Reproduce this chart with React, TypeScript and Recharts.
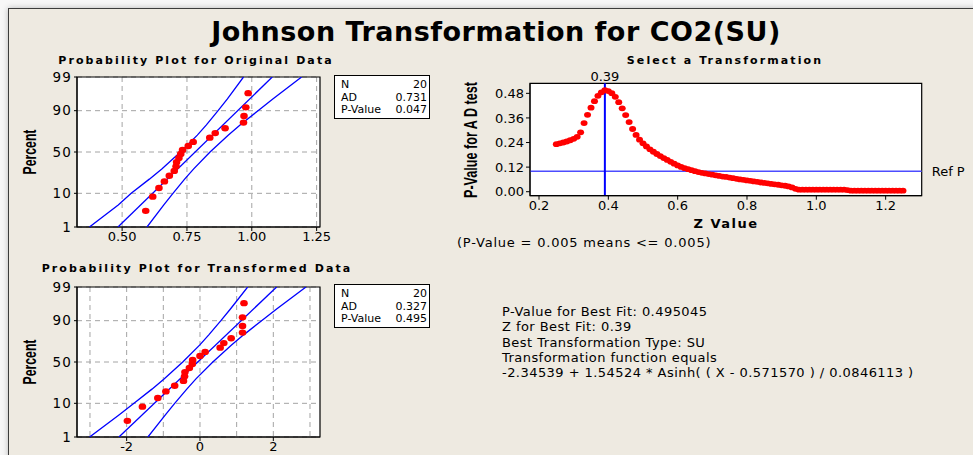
import React from "react";
import {
  ScatterChart,
  Scatter,
  XAxis,
  YAxis,
  CartesianGrid,
  ReferenceLine,
  ReferenceArea,
} from "recharts";

const FONT = "'DejaVu Sans', Verdana, sans-serif";
const NARROW = "'Liberation Sans', Arial, sans-serif";

// probability plots: sorted data and their plotting percents
const originalValues = [
  0.591, 0.618, 0.642, 0.663, 0.682, 0.701, 0.708, 0.71, 0.719, 0.726,
  0.733, 0.755, 0.774, 0.838, 0.859, 0.897, 0.968, 0.97, 0.977, 0.986,
];
const transformedValues = [
  -1.98, -1.57, -1.15, -0.93, -0.69, -0.45, -0.42, -0.41, -0.29, -0.21,
  -0.2, 0.0, 0.14, 0.55, 0.65, 0.85, 1.16, 1.16, 1.16, 1.2,
];
const plotPercents = [
  3.4, 8.3, 13.2, 18.1, 23.0, 27.9, 32.8, 37.7, 42.6, 47.5,
  52.5, 57.4, 62.3, 67.2, 72.1, 77.0, 81.9, 86.8, 91.7, 96.6,
];
const percentTicks = [1, 10, 50, 90, 99];

// confidence bands and fitted lines
const bandPercents = [1, 5, 10, 20, 30, 50, 70, 80, 90, 95, 99];
const originalLower = [0.374, 0.485, 0.535, 0.605, 0.653, 0.725, 0.79, 0.825, 0.87, 0.906, 0.968];
const originalUpper = [0.596, 0.66, 0.696, 0.741, 0.776, 0.839, 0.91, 0.956, 1.024, 1.081, 1.192];
const transformedLower = [-3.01, -2.21, -1.8, -1.31, -0.98, -0.47, -0.01, 0.24, 0.57, 0.83, 1.3];
const transformedUpper = [-1.42, -0.95, -0.69, -0.36, -0.11, 0.35, 0.86, 1.19, 1.68, 2.09, 2.89];
const fitPercents = [1, 99];
const originalFit = [0.484, 1.079];
const transformedFit = [-2.21, 2.09];

const originalTicks = [0.5, 0.75, 1.0, 1.25];
const originalGrid = [0.375, 0.5, 0.625, 0.75, 0.875, 1.0, 1.125, 1.25];
const transformedTicks = [-2, 0, 2];
const transformedGrid = [-3, -2, -1, 0, 1, 2, 3];

// transformation search: P-value of AD test per Z value
const zValues = [
  0.25, 0.26, 0.27, 0.28, 0.29, 0.3, 0.31, 0.32, 0.33, 0.34,
  0.35, 0.36, 0.37, 0.38, 0.39, 0.4, 0.41, 0.42, 0.43, 0.44,
  0.45, 0.46, 0.47, 0.48, 0.49, 0.5, 0.51, 0.52, 0.53, 0.54,
  0.55, 0.56, 0.57, 0.58, 0.59, 0.6, 0.61, 0.62, 0.63, 0.64,
  0.65, 0.66, 0.67, 0.68, 0.69, 0.7, 0.71, 0.72, 0.73, 0.74,
  0.75, 0.76, 0.77, 0.78, 0.79, 0.8, 0.81, 0.82, 0.83, 0.84,
  0.85, 0.86, 0.87, 0.88, 0.89, 0.9, 0.91, 0.92, 0.93, 0.94,
  0.95, 0.96, 0.97, 0.98, 0.99, 1.0, 1.01, 1.02, 1.03, 1.04,
  1.05, 1.06, 1.07, 1.08, 1.09, 1.1, 1.11, 1.12, 1.13, 1.14,
  1.15, 1.16, 1.17, 1.18, 1.19, 1.2, 1.21, 1.22, 1.23, 1.24,
  1.25,
];
const pValues = [
  0.232, 0.236, 0.24, 0.245, 0.251, 0.258, 0.268, 0.29, 0.335, 0.375,
  0.41, 0.442, 0.468, 0.485, 0.495, 0.491, 0.481, 0.463, 0.437, 0.407,
  0.374, 0.34, 0.306, 0.277, 0.254, 0.236, 0.221, 0.207, 0.195, 0.184,
  0.174, 0.164, 0.155, 0.146, 0.137, 0.128, 0.121, 0.115, 0.11, 0.105,
  0.1, 0.096, 0.092, 0.089, 0.086, 0.083, 0.08, 0.077, 0.074, 0.072,
  0.069, 0.066, 0.063, 0.06, 0.058, 0.055, 0.053, 0.05, 0.048, 0.045,
  0.043, 0.041, 0.038, 0.036, 0.034, 0.031, 0.029, 0.026, 0.021, 0.014,
  0.01, 0.01, 0.01, 0.01, 0.01, 0.01, 0.01, 0.01, 0.01, 0.01,
  0.01, 0.01, 0.01, 0.01, 0.008, 0.005, 0.005, 0.005, 0.005, 0.005,
  0.005, 0.005, 0.005, 0.005, 0.005, 0.005, 0.005, 0.005, 0.005, 0.005,
  0.005,
];
const zAxisTicks = [0.2, 0.4, 0.6, 0.8, 1.0, 1.2];
const pAxisTicks = [0, 0.12, 0.24, 0.36, 0.48];
const bestZ = 0.39;
const refP = 0.1;

const statLabels = ["N", "AD", "P-Value"];
const originalStats = ["20", "0.731", "0.047"];
const transformedStats = ["20", "0.327", "0.495"];

const summaryLines = [
  "P-Value for Best Fit: 0.495045",
  "Z for Best Fit: 0.39",
  "Best Transformation Type: SU",
  "Transformation function equals",
  "-2.34539 + 1.54524 * Asinh( ( X - 0.571570 ) / 0.0846113 )",
];

// inverse normal cdf (Acklam), used for the probability scale
function probit(p: number): number {
  const a = [-39.69683028665376, 220.9460984245205, -275.9285104469687, 138.357751867269, -30.66479806614716, 2.506628277459239];
  const b = [-54.47609879822406, 161.5858368580409, -155.6989798598866, 66.80131188771972, -13.28068155288572];
  const c = [-0.007784894002430293, -0.3223964580411365, -2.400758277161838, -2.549732539343734, 4.374664141464968, 2.938163982698783];
  const d = [0.007784695709041462, 0.3224671290700398, 2.445134137142996, 3.754408661907416];
  const lo = 0.02425;
  if (p < lo) {
    const q = Math.sqrt(-2 * Math.log(p));
    return (((((c[0] * q + c[1]) * q + c[2]) * q + c[3]) * q + c[4]) * q + c[5]) /
      ((((d[0] * q + d[1]) * q + d[2]) * q + d[3]) * q + 1);
  }
  if (p > 1 - lo) return -probit(1 - p);
  const q = p - 0.5;
  const r = q * q;
  return ((((((a[0] * r + a[1]) * r + a[2]) * r + a[3]) * r + a[4]) * r + a[5]) * q) /
    (((((b[0] * r + b[1]) * r + b[2]) * r + b[3]) * r + b[4]) * r + 1);
}

const zTicks = percentTicks.map((p) => probit(p / 100));
const zDomain: [number, number] = [zTicks[0], zTicks[zTicks.length - 1]];

const redDot = (r: number) => (props: any) => (
  <ellipse cx={props.cx} cy={props.cy} rx={r + 0.6} ry={r} fill="#ff0000" />
);
const noDot = () => <g />;

type ProbPlotProps = {
  values: number[];
  lower: number[];
  upper: number[];
  fit: number[];
  xDomain: [number, number];
  xTicks: number[];
  gridX: number[];
  digits: number;
  height: number;
  axisHeight: number;
};

const ProbPlot = ({ values, lower, upper, fit, xDomain, xTicks, gridX, digits, height, axisHeight }: ProbPlotProps) => {
  const dots = values.map((x, i) => ({ x, z: probit(plotPercents[i] / 100) }));
  const band = (arr: number[]) => arr.map((x, i) => ({ x, z: probit(bandPercents[i] / 100) }));
  const fitLine = fit.map((x, i) => ({ x, z: probit(fitPercents[i] / 100) }));
  const lineStyle = { stroke: "#0000ff", strokeWidth: 1.3 };
  return (
    <ScatterChart
      width={340}
      height={height}
      margin={{ top: 17, right: 20, bottom: height - 17 - 150 - axisHeight, left: 17 }}
    >
      <CartesianGrid
        fill="#ffffff"
        stroke="#a4a4a4"
        strokeDasharray="5 4"
        horizontalValues={zTicks}
        verticalValues={gridX}
      />
      <XAxis
        type="number"
        dataKey="x"
        domain={xDomain}
        ticks={xTicks}
        allowDataOverflow
        height={axisHeight}
        tickFormatter={(v: number) => (digits ? v.toFixed(digits) : String(v))}
        tick={{ fill: "#000", fontSize: 13, fontFamily: FONT }}
        tickSize={4}
        tickMargin={1}
        axisLine={{ stroke: "#000" }}
        tickLine={{ stroke: "#000" }}
      />
      <YAxis
        type="number"
        dataKey="z"
        domain={zDomain}
        ticks={zTicks}
        allowDataOverflow
        width={60}
        tickFormatter={(v: number) => String(percentTicks[zTicks.findIndex((t) => Math.abs(t - v) < 1e-6)])}
        tick={{ fill: "#000", fontSize: 13.5, fontFamily: FONT, letterSpacing: 1.2 }}
        tickSize={3}
        tickMargin={2}
        axisLine={{ stroke: "#000" }}
        tickLine={{ stroke: "#000" }}
      />
      <Scatter data={band(lower)} line={lineStyle} shape={noDot} isAnimationActive={false} />
      <Scatter data={fitLine} line={lineStyle} shape={noDot} isAnimationActive={false} />
      <Scatter data={band(upper)} line={lineStyle} shape={noDot} isAnimationActive={false} />
      <Scatter data={dots} shape={redDot(3.2)} isAnimationActive={false} />
      <ReferenceArea
        x1={xDomain[0]}
        x2={xDomain[1]}
        y1={zDomain[0]}
        y2={zDomain[1]}
        fill="none"
        stroke="#000"
        strokeWidth={1.2}
      />
    </ScatterChart>
  );
};

const searchData = zValues.map((z, i) => ({ z, p: pValues[i] }));
const zDomainC: [number, number] = [0.174, 1.304];
const pDomainC: [number, number] = [-0.0195, 0.529];

const SearchPlot = () => (
  <ScatterChart width={523} height={150} margin={{ top: 13.3, right: 51.3, bottom: 4.3, left: 20 }}>
    <CartesianGrid fill="#ffffff" horizontal={false} vertical={false} />
    <XAxis
      type="number"
      dataKey="z"
      domain={zDomainC}
      ticks={zAxisTicks}
      allowDataOverflow
      height={20}
      tickFormatter={(v: number) => v.toFixed(1)}
      tick={{ fill: "#000", fontSize: 13, fontFamily: FONT }}
      tickSize={4}
      tickMargin={1}
      axisLine={{ stroke: "#000" }}
      tickLine={{ stroke: "#000" }}
    />
    <YAxis
      type="number"
      dataKey="p"
      domain={pDomainC}
      ticks={pAxisTicks}
      allowDataOverflow
      width={60}
      tickFormatter={(v: number) => v.toFixed(2)}
      tick={{ fill: "#000", fontSize: 13, fontFamily: FONT }}
      tickSize={4}
      tickMargin={2}
      axisLine={{ stroke: "#000" }}
      tickLine={{ stroke: "#000" }}
    />
    <ReferenceLine
      y={refP}
      stroke="#4d4dff"
      strokeWidth={1.5}
      label={{ value: "Ref P", position: "right", offset: 10, fill: "#000", fontSize: 13, fontFamily: FONT }}
    />
    <Scatter data={searchData} shape={redDot(2.9)} isAnimationActive={false} />
    <ReferenceLine
      x={bestZ}
      stroke="#0000ff"
      strokeWidth={2}
      label={{ value: "0.39", position: "top", offset: 2, fill: "#000", fontSize: 13, fontFamily: FONT }}
    />
    <ReferenceArea
      x1={zDomainC[0]}
      x2={zDomainC[1]}
      y1={pDomainC[0]}
      y2={pDomainC[1]}
      fill="none"
      stroke="#000"
      strokeWidth={1.2}
    />
  </ScatterChart>
);

const Text = ({ x, y, rotate, squeeze, style, children }: any) => (
  <div
    style={{
      position: "absolute",
      left: x,
      top: y,
      transform: `translate(-50%, -50%)${rotate ? " rotate(-90deg)" : ""}${squeeze ? ` scaleX(${squeeze})` : ""}`,
      whiteSpace: "nowrap",
      lineHeight: 1,
      ...style,
    }}
  >
    {children}
  </div>
);

const StatBox = ({ top, values }: { top: number; values: string[] }) => (
  <div
    style={{
      position: "absolute",
      left: 334,
      top,
      width: 96,
      height: 44,
      border: "1px solid #000",
      background: "#fff",
      boxSizing: "border-box",
      padding: "3px 2px 0 6px",
      fontFamily: FONT,
      fontSize: 11,
    }}
  >
    {statLabels.map((k, i) => (
      <div key={k} style={{ display: "flex", justifyContent: "space-between", lineHeight: "12.5px" }}>
        <span>{k}</span>
        <span>{values[i]}</span>
      </div>
    ))}
  </div>
);

const subTitle = { fontFamily: FONT, fontWeight: 700, fontSize: 11, letterSpacing: 2.1 };
const narrowLabel = { fontFamily: NARROW, fontWeight: 700, fontSize: 18 };

export default function App() {
  return (
    <div
      style={{
        position: "absolute",
        left: 0,
        top: 0,
        width: 973,
        height: 455,
        overflow: "hidden",
        background: "#f7f7f7",
        fontFamily: FONT,
        color: "#000",
      }}
    >
      <div
        style={{
          position: "absolute",
          left: 8,
          top: 8,
          width: 1100,
          height: 600,
          background: "#eeeae1",
          border: "1.5px solid #3c3c3c",
          boxShadow: "0 0 6px rgba(0,0,0,0.25)",
        }}
      />
      <Text x={496} y={31} style={{ fontWeight: 700, fontSize: 27, letterSpacing: 0.5 }}>
        Johnson Transformation for CO2(SU)
      </Text>

      <Text x={196} y={60} style={subTitle}>Probability Plot for Original Data</Text>
      <Text x={30} y={152} rotate squeeze={0.68} style={narrowLabel}>Percent</Text>
      <div style={{ position: "absolute", left: 0, top: 60 }}>
        <ProbPlot
          values={originalValues}
          lower={originalLower}
          upper={originalUpper}
          fit={originalFit}
          xDomain={[0.326, 1.263]}
          xTicks={originalTicks}
          gridX={originalGrid}
          digits={2}
          height={190}
          axisHeight={20}
        />
      </div>
      <StatBox top={75} values={originalStats} />

      <Text x={197} y={268} style={subTitle}>Probability Plot for Transformed Data</Text>
      <Text x={30} y={362} rotate squeeze={0.68} style={narrowLabel}>Percent</Text>
      <div style={{ position: "absolute", left: 0, top: 270 }}>
        <ProbPlot
          values={transformedValues}
          lower={transformedLower}
          upper={transformedUpper}
          fit={transformedFit}
          xDomain={[-3.354, 3.273]}
          xTicks={transformedTicks}
          gridX={transformedGrid}
          digits={0}
          height={185}
          axisHeight={18}
        />
      </div>
      <StatBox top={284} values={transformedStats} />

      <Text x={725} y={60} style={subTitle}>Select a Transformation</Text>
      <Text x={471} y={140} rotate squeeze={0.7} style={narrowLabel}>P-Value for A D test</Text>
      <div style={{ position: "absolute", left: 450, top: 70 }}>
        <SearchPlot />
      </div>
      <Text x={726} y={223} style={{ fontWeight: 700, fontSize: 13, letterSpacing: 1.5 }}>Z Value</Text>
      <div
        style={{
          position: "absolute",
          left: 457,
          top: 236,
          fontSize: 13,
          letterSpacing: 0.8,
          lineHeight: 1,
          whiteSpace: "nowrap",
        }}
      >
        (P-Value = 0.005 means &lt;= 0.005)
      </div>

      <div
        style={{
          position: "absolute",
          left: 502,
          top: 304,
          fontSize: 13,
          letterSpacing: 0.45,
          lineHeight: "15.25px",
          whiteSpace: "nowrap",
        }}
      >
        {summaryLines.map((l) => (
          <div key={l}>{l}</div>
        ))}
      </div>
    </div>
  );
}
